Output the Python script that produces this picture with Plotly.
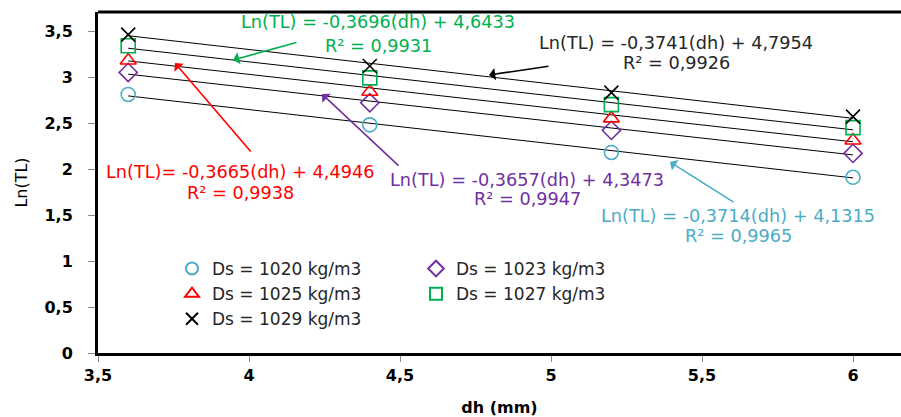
import plotly.graph_objects as go

dh = [3.6, 4.4, 5.2, 6.0]
series_names = ["Ds = 1020 kg/m3", "Ds = 1023 kg/m3", "Ds = 1025 kg/m3",
                "Ds = 1027 kg/m3", "Ds = 1029 kg/m3"]
ln_tl_1020 = [2.81, 2.48, 2.18, 1.91]
ln_tl_1023 = [3.05, 2.72, 2.42, 2.17]
ln_tl_1025 = [3.18, 2.84, 2.55, 2.31]
ln_tl_1027 = [3.34, 2.99, 2.70, 2.45]
ln_tl_1029 = [3.46, 3.12, 2.83, 2.57]
ln_tl = [ln_tl_1020, ln_tl_1023, ln_tl_1025, ln_tl_1027, ln_tl_1029]
slopes = [-0.3714, -0.3657, -0.3665, -0.3696, -0.3741]
intercepts = [4.1315, 4.3473, 4.4946, 4.6433, 4.7954]
r2 = ["0,9965", "0,9947", "0,9938", "0,9931", "0,9926"]
eq_text = [
    "Ln(TL) = -0,3714(dh) + 4,1315",
    "Ln(TL) = -0,3657(dh) + 4,3473",
    "Ln(TL)= -0,3665(dh) + 4,4946",
    "Ln(TL) = -0,3696(dh) + 4,6433",
    "Ln(TL) = -0,3741(dh) + 4,7954",
]
x_ticks = [3.5, 4, 4.5, 5, 5.5, 6]
y_ticks = [0, 0.5, 1, 1.5, 2, 2.5, 3, 3.5]

colors = ["#4BACC6", "#7030A0", "#FF0000", "#00B050", "#000000"]
text_colors = ["#4BACC6", "#7030A0", "#FF0000", "#00B050", "#262626"]
symbols = ["circle-open", "diamond-open", "triangle-up-open", "square-open", "x-thin-open"]
legends = ["legend", "legend2", "legend", "legend2", "legend"]

FONT = "DejaVu Sans"
W, H = 901, 417
# plot area in page pixels
PL, PR, PT, PB = 98, 901, 12, 353
X0, X1 = 3.5, 3.5 + (PR - PL) / 302.0
Y0, Y1 = 0.0, (PB - PT) / 92.0


def px2x(px):
    return X0 + (px - PL) / (PR - PL) * (X1 - X0)


def px2y(py):
    return Y0 + (PB - py) / (PB - PT) * (Y1 - Y0)


def px2paperx(px):
    return (px - PL) / (PR - PL)


def px2papery(py):
    return (PB - py) / (PB - PT)


# page-pixel positions: eq line centre, R2 line centre, arrow tail, arrow head
label_px = [
    ((738, 216), (738, 236), (735, 203), (670, 162)),
    ((527, 180), (527, 199), (400, 167), (322, 94)),
    ((240, 172), (240, 193), (252, 153), (175, 63)),
    ((378, 22), (378, 46), (298, 42), (233, 60)),
    ((676, 43), (676, 63), (550, 66), (489, 75)),
]

fig = go.Figure()

for i in range(5):
    xs = [dh[0], dh[-1]]
    ys = [slopes[i] * v + intercepts[i] for v in xs]
    fig.add_trace(go.Scatter(x=xs, y=ys, mode="lines",
                             line=dict(color="black", width=1),
                             showlegend=False, hoverinfo="skip"))

for i in range(5):
    fig.add_trace(go.Scatter(
        x=dh, y=ln_tl[i], mode="markers", name=series_names[i],
        legend=legends[i],
        marker=dict(symbol=symbols[i], size=14, color=colors[i],
                    line=dict(width=1.6, color=colors[i]))))

annotations = []
for i in range(5):
    (ex, ey), (rx, ry), (ax, ay), (hx, hy) = label_px[i]
    annotations.append(dict(
        x=px2x(ex), y=px2y(ey), xref="x", yref="y", showarrow=False,
        text=eq_text[i], font=dict(family=FONT, size=17.7, color=text_colors[i])))
    annotations.append(dict(
        x=px2x(rx), y=px2y(ry), xref="x", yref="y", showarrow=False,
        text="R² = " + r2[i], font=dict(family=FONT, size=17.7, color=text_colors[i])))
    annotations.append(dict(
        x=px2x(hx), y=px2y(hy), ax=px2x(ax), ay=px2y(ay),
        xref="x", yref="y", axref="x", ayref="y",
        text="", showarrow=True, arrowhead=1, arrowsize=1.3, arrowwidth=1.6,
        arrowcolor=colors[i]))

leg_common = dict(xanchor="left", yanchor="top", bgcolor="rgba(0,0,0,0)",
                  font=dict(family=FONT, size=17, color="#262626"),
                  itemsizing="constant", tracegroupgap=0)
fig.update_layout(
    width=W, height=H,
    margin=dict(l=PL, r=W - PR, t=PT, b=H - PB, autoexpand=False),
    paper_bgcolor="white", plot_bgcolor="white",
    separators=", ",
    font=dict(family=FONT, color="black"),
    annotations=annotations,
    legend=dict(x=px2paperx(172), y=px2papery(251), **leg_common),
    legend2=dict(x=px2paperx(416), y=px2papery(251), **leg_common),
    shapes=[dict(type="line", xref="paper", yref="paper", x0=0, x1=1, y0=1, y1=1,
                 line=dict(color="black", width=3))],
)
fig.update_xaxes(range=[X0, X1], tickvals=x_ticks, showgrid=False, zeroline=False,
                 automargin=False,
                 showline=True, linecolor="black", linewidth=3,
                 ticks="outside", ticklen=6, tickcolor="#888888",
                 tickfont=dict(family=FONT, size=16, color="black", weight="bold"),
                 title=dict(text="<b>dh (mm)</b>", font=dict(family=FONT, size=16), standoff=18))
fig.update_yaxes(range=[Y0, Y1], tickvals=y_ticks, showgrid=False, zeroline=False,
                 automargin=False,
                 showline=True, linecolor="black", linewidth=3,
                 ticks="outside", ticklen=7, tickcolor="#888888", ticklabelstandoff=12,
                 tickfont=dict(family=FONT, size=16, color="black", weight="bold"),
                 title=dict(text="Ln(TL)", font=dict(family=FONT, size=16), standoff=13))

fig.write_html(
    "out.html",
    config={"displayModeBar": False},
    post_script="document.body.style.margin='0';"
                "document.body.style.overflow='hidden';"
                "document.documentElement.style.overflow='hidden';",
)
